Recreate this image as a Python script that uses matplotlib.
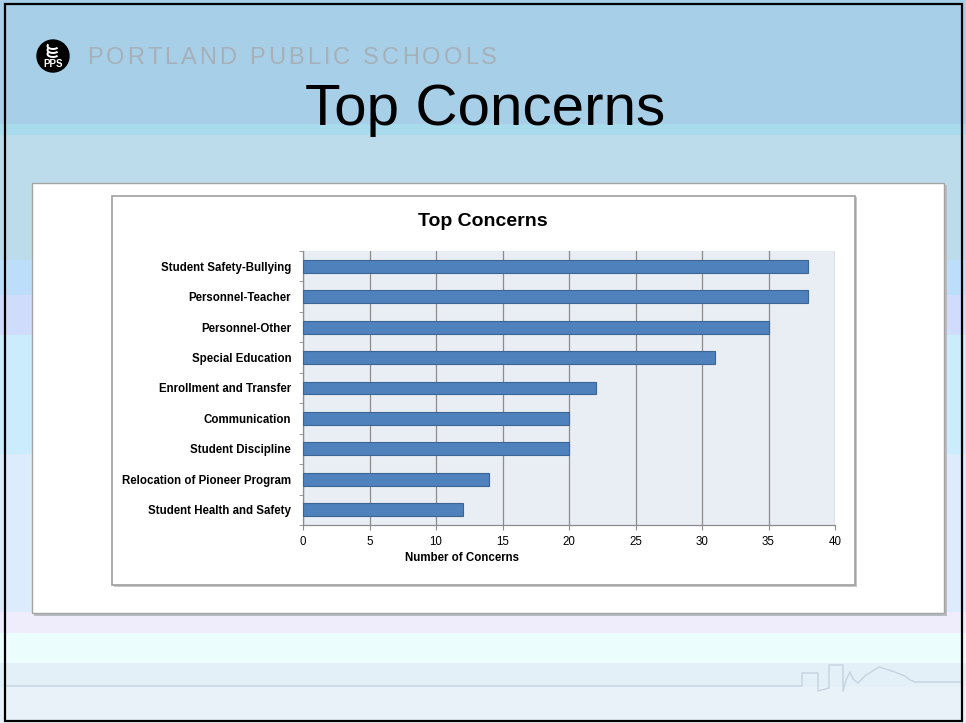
import numpy as np
import matplotlib.pyplot as plt
from matplotlib.patches import Rectangle, Circle, Arc

# Number of concerns raised per topic, listed top to bottom
concerns = ['Student Safety-Bullying', 'Personnel-Teacher', 'Personnel-Other',
            'Special Education', 'Enrollment and Transfer', 'Communication',
            'Student Discipline', 'Relocation of Pioneer Program',
            'Student Health and Safety']
counts = [38, 38, 35, 31, 22, 20, 20, 14, 12]
x_ticks = [0, 5, 10, 15, 20, 25, 30, 35, 40]

W, H = 966, 723
fig = plt.figure(figsize=(W / 100, H / 100), dpi=100)

# Slide background, laid out in pixel units
bg = fig.add_axes([0, 0, 1, 1])
bg.set_xlim(0, W)
bg.set_ylim(H, 0)
bg.axis('off')

bands = [(0, 124, '#a7cfe8'), (124, 135, '#a8dcec'), (135, 260, '#bcdcec'),
         (260, 295, '#bcdefb'), (295, 335, '#d0dcfc'), (335, 454, '#caecfc'),
         (454, 612, '#dcecfc'), (612, 633, '#efecfc'), (633, 663, '#ecfdfd'),
         (663, 687, '#e4f0f8'), (687, H, '#e8f2f8')]
for top, bot, col in bands:
    bg.add_patch(Rectangle((0, top), W, bot - top, color=col, lw=0, zorder=0))

# faint skyline along the bottom
sky_x = [6, 802, 802, 818, 818, 829, 829, 843, 843, 846, 850, 853, 858, 866, 879,
         892, 905, 910, 915, 920, 962]
sky_y = [686, 686, 673, 673, 691, 688, 665, 665, 691, 680, 672, 679, 683, 675, 667,
         671, 676, 680, 682, 682, 682]
bg.plot(sky_x, sky_y, color='#c3d3df', lw=1.0, zorder=1)

# white content panel and chart frame, each with a soft shadow
bg.add_patch(Rectangle((33.5, 184.5), 913, 431, color='#b8bcc0', lw=0, zorder=2))
bg.add_patch(Rectangle((32, 183), 912, 430, facecolor='white', edgecolor='#a4a4a4',
                       lw=1.0, zorder=2))
bg.add_patch(Rectangle((113.5, 197), 743, 390, color='#c8c8c8', lw=0, zorder=3))
bg.add_patch(Rectangle((112, 196), 743, 389, facecolor='white', edgecolor='#a0a0a0',
                       lw=1.2, zorder=3))

# outer black frame
bg.add_patch(Rectangle((5, 4), 957, 717, fill=False, edgecolor='black', lw=1.6, zorder=10))

# logo: torch flame over the letters PPS
bg.add_patch(Circle((53, 56), 16, color='black', zorder=4))
for dy in (0, 4, 8):
    bg.add_patch(Arc((53, 46 + dy), 11, 6, theta1=20, theta2=200, color='white',
                     lw=1.4, zorder=5))
bg.text(53, 64, 'PPS', color='white', fontsize=7, fontweight='bold',
        family='Liberation Sans', ha='center', va='center', zorder=5)

# district name, tracked out to its full width
name = 'PORTLAND PUBLIC SCHOOLS'
name_kw = dict(fontsize=17, color='#a6b0b8', family='Liberation Sans', va='baseline',
               zorder=4)
renderer = fig.canvas.get_renderer()


def text_width(s):
    t = bg.text(0, 0, s + '|', **name_kw)
    w = t.get_window_extent(renderer).width
    t.remove()
    return w


bar_w = text_width('')
offsets = [text_width(name[:i]) - bar_w for i in range(len(name) + 1)]
track = (410 - offsets[-1]) / (len(name) - 1)
for i, ch in enumerate(name):
    if ch != ' ':
        bg.text(87 + offsets[i] + i * track, 64, ch, **name_kw)

bg.text(485, 125, 'Top Concerns', fontsize=42, family='Liberation Sans',
        ha='center', va='baseline', zorder=4)
bg.text(483, 222, 'Top Concerns', fontsize=14, fontweight='bold',
        family='Liberation Sans', ha='center', va='center', zorder=4)

# bar chart
ax = fig.add_axes([303 / W, 1 - 525 / H, (835 - 303) / W, (525 - 251) / H])
y = np.arange(len(concerns))
ax.barh(y, counts, height=0.42, color='#4f81bd', edgecolor='#3b6694', lw=0.8, zorder=3)
ax.set_facecolor('#e9edf4')
ax.set_xlim(0, 40)
ax.set_ylim(len(concerns) - 0.5, -0.5)
ax.set_xticks(x_ticks)
ax.set_yticks(y)
ax.set_yticklabels(concerns, fontsize=8.3, fontweight='bold', family='Liberation Sans')
ax.set_yticks(np.arange(len(concerns) + 1) - 0.5, minor=True)
ax.tick_params(axis='y', which='major', length=0, pad=8.5)
ax.tick_params(axis='y', which='minor', length=3, color='#8c8c8c', direction='out')
ax.tick_params(axis='x', length=3.6, color='#8c8c8c', direction='out', pad=4,
               labelsize=8.3)
for lab in ax.get_xticklabels():
    lab.set_family('Liberation Sans')
ax.set_xlabel('Number of Concerns', fontsize=8.3, fontweight='bold',
              family='Liberation Sans')
ax.xaxis.set_label_coords(0.299, -0.10)
ax.grid(axis='x', color='#8c8c8c', lw=0.9, zorder=1)
ax.set_axisbelow(True)
for side in ('top', 'right'):
    ax.spines[side].set_visible(False)
for side in ('left', 'bottom'):
    ax.spines[side].set_color('#8c8c8c')
    ax.spines[side].set_linewidth(0.9)

fig.savefig('out.png', dpi=100)
